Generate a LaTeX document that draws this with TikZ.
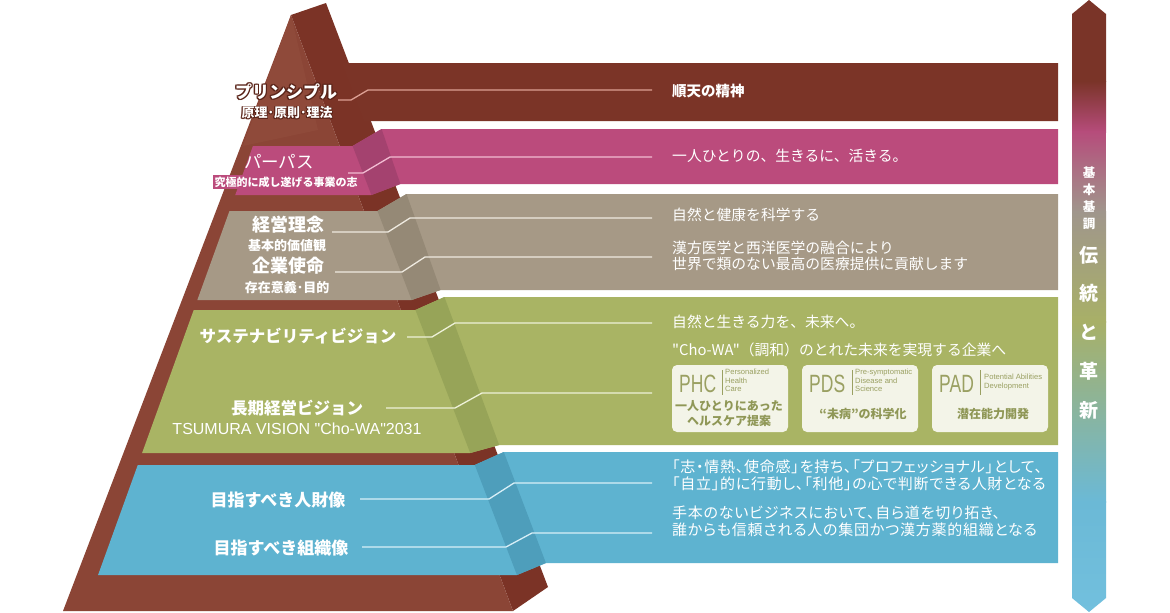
\documentclass[tikz,border=0pt]{standalone}
\usepackage{fontspec}
\usepackage{graphicx}
\setmainfont{Liberation Sans}
\newfontfamily\jp{Noto Sans CJK JP}
\newfontfamily\jpls{Noto Sans CJK JP}[RawFeature=+palt, LetterSpace=5]
\newfontfamily\lat{Liberation Sans}
\usetikzlibrary{calc}
\definecolor{pyrF}{HTML}{8B4536}
\definecolor{pyrFL}{HTML}{8F4A3A}
\definecolor{pyrS}{HTML}{7B3326}
\definecolor{bandB}{HTML}{7B3427}
\definecolor{pinkF}{HTML}{BB4B7C}
\definecolor{pinkS}{HTML}{A4426F}
\definecolor{beigeF}{HTML}{A69986}
\definecolor{beigeS}{HTML}{958976}
\definecolor{greenF}{HTML}{A9B464}
\definecolor{greenS}{HTML}{97A458}
\definecolor{blueF}{HTML}{5EB3D0}
\definecolor{blueS}{HTML}{4E9EBB}
\definecolor{boxT}{HTML}{9AA062}
\definecolor{boxJ}{HTML}{8F9756}
\definecolor{boxfill}{HTML}{F3F4E8}
\definecolor{olBrown}{HTML}{5A2419}
\definecolor{connB}{HTML}{DDA094}
\definecolor{connP}{HTML}{F2BCD2}
\definecolor{connG}{HTML}{EFEAE0}
\definecolor{connV}{HTML}{EEF1D8}
\definecolor{connH}{HTML}{D8EFF7}
\definecolor{arrBrown}{HTML}{7A3428}
\definecolor{arrPink}{HTML}{B64C7B}
\definecolor{arrGray}{HTML}{A0968C}
\definecolor{arrGreen}{HTML}{A8B067}
\definecolor{arrBlue}{HTML}{6BB9D6}
\definecolor{arrBlueB}{HTML}{72C0DE}
\newcommand\olt[3]{%
 \makebox[0pt][l]{\textcolor{#1}{\kern#2 #3}}%
 \makebox[0pt][l]{\textcolor{#1}{\kern-#2 #3}}%
 \makebox[0pt][l]{\textcolor{#1}{\raisebox{#2}{#3}}}%
 \makebox[0pt][l]{\textcolor{#1}{\raisebox{-#2}{#3}}}%
 \makebox[0pt][l]{\textcolor{#1}{\kern#2\raisebox{#2}{#3}}}%
 \makebox[0pt][l]{\textcolor{#1}{\kern-#2\raisebox{#2}{#3}}}%
 \makebox[0pt][l]{\textcolor{#1}{\kern#2\raisebox{-#2}{#3}}}%
 \makebox[0pt][l]{\textcolor{#1}{\kern-#2\raisebox{-#2}{#3}}}%
 #3}
\newcommand\pyrlayer[6]{%
 \pgfmathsetmacro\xlt{193-0.361*(#1-312)}%
 \pgfmathsetmacro\xlb{193-0.361*(#2-312)}%
 \pgfmathsetmacro\xrt{353+0.383*(#1-147)}%
 \pgfmathsetmacro\xrb{353+0.383*(#2-147)}%
 \pgfmathsetmacro\xft{\xrt+29}%
 \pgfmathsetmacro\xfb{\xrb+29}%
 \fill[#5] (\xlt,#1) -- (\xrt,#1) -- (\xft,#3) -- (1058,#3) -- (1058,#4) -- (\xfb,#4) -- (\xrb,#2) -- (\xlb,#2) -- cycle;
 \fill[#6] (\xrt,#1) -- (\xft,#3) -- (\xfb,#4) -- (\xrb,#2) -- cycle;
}
\begin{document}
\begin{tikzpicture}[x=1pt,y=-1pt,
  lbl/.style={text=white, font=\jp\bfseries\fontsize{17}{20}\selectfont, inner sep=0},
  sublbl/.style={text=white, font=\jp\bfseries\fontsize{13}{15}\selectfont, inner sep=0},
  rtxt/.style={text=white, font=\jp\fontsize{14.8}{16.5}\selectfont, inner sep=0, anchor=west, align=left},
  conn/.style={line width=1.3pt, draw=#1},
  pbox/.style={fill=boxfill, rounded corners=5pt, minimum width=116pt, minimum height=67pt, inner sep=0},
  boxbig/.style={text=boxT, font=\lat\fontsize{25}{25}\selectfont, inner sep=0, anchor=west},
  boxsmall/.style={text=boxT, font=\lat\fontsize{7.6}{8.4}\selectfont, inner sep=0, align=left, anchor=north west},
  boxjp/.style={text=boxJ, font=\jp\bfseries\fontsize{12}{15}\selectfont, inner sep=0, align=center},
  arrtxt/.style={text=white, font=\jp\bfseries\fontsize{12.5}{17}\selectfont, inner sep=0, align=center},
]
\fill[white] (0,0) rectangle (1170,613);
\useasboundingbox (0,0) rectangle (1170,613);

% pyramid body
\fill[pyrS] (291,15) -- (326,3) -- (548,587) -- (513,611) -- cycle;
\fill[pyrF] (291,15) -- (513,611) -- (63,611) -- cycle;
\fill[pyrFL] (291,15) -- (318,130) -- (243,146) -- cycle;
% top band (principle)
\fill[bandB] (342,63) -- (1058,63) -- (1058,121) -- (364,121) -- cycle;

% layers
\pyrlayer{146}{195}{129}{184}{pinkF}{pinkS}
\pyrlayer{211}{300}{194}{290}{beigeF}{beigeS}
\pyrlayer{310}{453}{297}{445}{greenF}{greenS}
\pyrlayer{465}{575}{452}{563}{blueF}{blueS}

% connectors
\draw[conn=connB] (338,100) -- (351,100) -- (368,90) -- (652,90);
\draw[conn=connP] (348,173) -- (363,173) -- (390,157) -- (652,157);
\draw[conn=connG] (332,232) -- (388,232) -- (410,218) -- (652,218);
\draw[conn=connG] (335,272) -- (402,272) -- (425,257) -- (652,257);
\draw[conn=connV] (407,337) -- (432,337) -- (455,323) -- (652,323);
\draw[conn=connV] (386,408) -- (455,408) -- (482,393) -- (652,393);
\draw[conn=connH] (360,499) -- (489,499) -- (514,483) -- (652,483);
\draw[conn=connH] (362,547) -- (506,547) -- (532,533) -- (652,533);

% left labels
\node[lbl] (prin) at (286,92) {\olt{olBrown}{1.1pt}{プリンシプル}};
\node[sublbl] (prinsub) at (287,113) {\olt{olBrown}{0.9pt}{原理･原則･理法}};
\node[lbl, font=\jp\fontsize{17.5}{20}\selectfont] (purp) at (279,162) {パーパス};
\node[text=white, font=\jp\bfseries\fontsize{11}{13}\selectfont, fill=pinkF, inner sep=1.5pt] (purpsub) at (286,182) {究極的に成し遂げる事業の志};
\node[lbl, font=\jp\bfseries\fontsize{18}{20}\selectfont] (keiei) at (288,225) {経営理念};
\node[sublbl] (kachi) at (287,246) {基本的価値観};
\node[lbl, font=\jp\bfseries\fontsize{18}{20}\selectfont] (shimei) at (288,266) {企業使命};
\node[sublbl] (igi) at (287,288) {存在意義･目的};
\node[lbl, font=\jp\bfseries\fontsize{16.5}{20}\selectfont] (sus) at (298,336) {サステナビリティビジョン};
\node[lbl, font=\jp\bfseries\fontsize{16.5}{20}\selectfont] (choki) at (297,408) {長期経営ビジョン};
\node[text=white, font=\lat\fontsize{16}{18}\selectfont, inner sep=0] (tsumura) at (297,429) {TSUMURA VISION "Cho-WA"2031};
\node[lbl] (jinzai) at (278,500) {目指すべき人財像};
\node[lbl] (soshiki) at (281,548) {目指すべき組織像};

% right texts
\node[rtxt, font=\jp\bfseries\fontsize{14.5}{16}\selectfont] (tB) at (672,91) {順天の精神};
\node[rtxt] (tP) at (672,156) {一人ひとりの、生きるに、活きる。};
\node[rtxt] (tG1) at (672,215) {自然と健康を科学する};
\node[rtxt] (tG2) at (672,256) {漢方医学と西洋医学の融合により\\世界で類のない最高の医療提供に貢献します};
\node[rtxt] (tV1) at (672,322) {自然と生きる力を、未来へ。};
\node[rtxt] (tV2) at (672,350) {"Cho-WA"（調和）のとれた未来を実現する企業へ};
\node[rtxt, font=\jpls\fontsize{15}{16.5}\selectfont] (tH1) at (672,475.5) {「志・情熱、使命感」を持ち、「プロフェッショナル」として、\\「自立」的に行動し、「利他」の心で判断できる人財となる};
\node[rtxt, font=\jpls\fontsize{15}{16.5}\selectfont] (tH2) at (672,521.5) {手本のないビジネスにおいて、自ら道を切り拓き、\\誰からも信頼される人の集団かつ漢方薬的組織となる};

% boxes
\node[pbox] (phc) at (730,398.5) {};
\node[pbox] (pds) at (860,398.5) {};
\node[pbox] (pad) at (990,398.5) {};
\node[boxbig] (phcT) at (679,384) {\scalebox{0.7}[1]{PHC}};
\node[boxbig] (pdsT) at (809,384) {\scalebox{0.7}[1]{PDS}};
\node[boxbig] (padT) at (939,384) {\scalebox{0.7}[1]{PAD}};
\draw[boxT, line width=0.7pt] (722,370) -- (722,395);
\draw[boxT, line width=0.7pt] (852,370) -- (852,395);
\draw[boxT, line width=0.7pt] (980,370) -- (980,395);
\node[boxsmall] (phcS) at (725,369) {Personalized\\Health\\Care};
\node[boxsmall] (pdsS) at (855,369) {Pre-symptomatic\\Disease and\\Science};
\node[boxsmall] (padS) at (984,374) {Potential Abilities\\Development};
\node[boxjp] (phcJ) at (729,414) {一人ひとりにあった\\ヘルスケア提案};
\node[boxjp] (pdsJ) at (863,414) {“未病”の科学化};
\node[boxjp] (padJ) at (993,414) {潜在能力開発};

% right arrow
\begin{scope}
\clip (1089,0) -- (1106,14) -- (1106,598) -- (1089,612) -- (1072,598) -- (1072,14) -- cycle;
\fill[arrBrown] (1070,-1) rectangle (1108,82);
\shade[top color=arrBrown, bottom color=arrPink] (1070,81) rectangle (1108,132);
\shade[top color=arrPink, bottom color=arrGray] (1070,131) rectangle (1108,212);
\shade[top color=arrGray, bottom color=arrGreen] (1070,211) rectangle (1108,322);
\shade[top color=arrGreen, bottom color=arrBlue] (1070,321) rectangle (1108,502);
\shade[top color=arrBlue, bottom color=arrBlueB] (1070,501) rectangle (1108,614);
\end{scope}
\node[arrtxt] (kihon) at (1089,198) {基\\本\\基\\調};
\node[arrtxt, font=\jp\bfseries\fontsize{19}{38.75}\selectfont] (dento) at (1089,332.5) {伝\\統\\と\\革\\新};
\end{tikzpicture}
\end{document}
